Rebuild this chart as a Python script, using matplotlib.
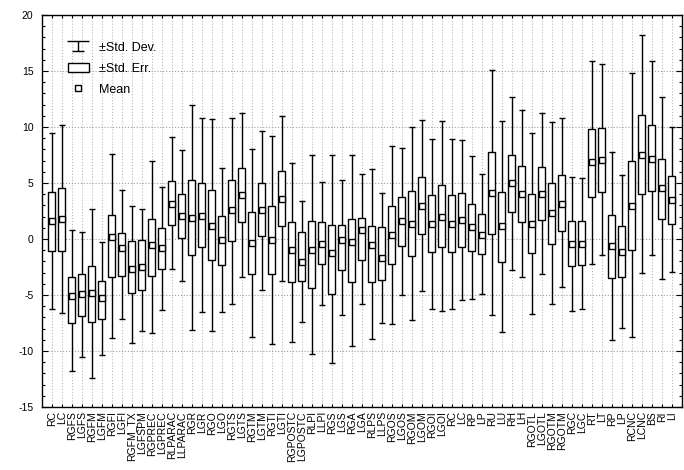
import matplotlib
matplotlib.use("Agg")
import matplotlib.pyplot as plt
import numpy as np
from matplotlib.ticker import MultipleLocator
from matplotlib.path import Path
from matplotlib.lines import Line2D

plt.rcParams['font.family'] = ['Liberation Sans', 'DejaVu Sans']
plt.rcParams['axes.unicode_minus'] = False

labels = ["RC", "LC", "RGFS", "LGFS", "RGFM", "LGFM", "RGFI", "LGFI", "RGFM_TX", "LGFSPM",
          "RGPREC", "LGPREC", "RLPARAC", "LLPARAC", "RGR", "LGR", "RGO", "LGO", "RGTS", "LGTS",
          "RGTM", "LGTM", "RGTI", "LGTI", "RGPOSTC", "LGPOSTC", "RLPI", "LLPI", "RGS", "LGS",
          "RGA", "LGA", "RLPS", "LLPS", "RGOS", "LGOS", "RGOM", "LGOM", "RGOI", "LGOI",
          "RC", "LC", "RP", "LP", "RU", "LU", "RH", "LH", "RGOTL", "LGOTL",
          "RGOTM", "RGOTM", "RGC", "LGC", "RT", "LT", "RP", "LP", "RCNC", "LCNC",
          "BS", "RI", "LI"]

# mean +- std. dev. (whiskers)
sd_hi = [9.48, 10.16, 0.83, 0.60, 2.68, -0.27, 7.57, 4.41, 2.98, 2.68,
         6.94, 4.65, 9.12, 7.93, 12.0, 10.76, 10.67, 6.35, 10.82, 11.26,
         8.05, 9.68, 9.18, 10.97, 6.79, 3.37, 7.48, 5.10, 7.48, 5.30,
         7.48, 5.81, 6.26, 4.11, 8.28, 8.13, 10.04, 10.61, 8.94, 10.52,
         8.97, 8.85, 7.45, 5.81, 15.08, 10.58, 12.69, 11.50, 9.48, 11.26,
         10.43, 10.76, 5.54, 5.45, 15.88, 15.64, 7.75, 5.75, 14.84, 18.18,
         15.88, 12.69, 9.98]
sd_lo = [-6.29, -6.61, -11.77, -10.55, -12.43, -10.40, -8.85, -7.12, -9.30, -8.25,
         -8.40, -6.32, -2.68, -3.72, -8.10, -6.53, -8.25, -6.56, -5.78, -3.40,
         -8.73, -4.53, -9.39, -3.72, -9.24, -7.45, -10.28, -5.87, -11.03, -6.76,
         -9.59, -5.78, -8.94, -7.51, -7.57, -4.98, -7.21, -4.68, -6.26, -6.41,
         -6.23, -5.48, -5.36, -4.92, -6.82, -8.31, -2.74, -3.43, -6.70, -3.10,
         -5.78, -4.29, -6.41, -6.23, -2.20, -1.40, -9.00, -7.96, -8.79, -3.04,
         -1.40, -3.58, -2.98]
# mean +- std. err. (boxes)
se_hi = [4.20, 4.56, -3.40, -3.16, -2.44, -3.72, 2.10, 0.54, -0.22, -0.12,
         1.79, 0.95, 5.21, 4.02, 5.30, 4.98, 4.35, 2.03, 5.30, 6.35,
         2.41, 4.98, 2.95, 6.05, 1.49, 0.60, 1.58, 1.49, 1.28, 1.28,
         1.79, 1.88, 1.19, 1.04, 2.98, 3.78, 4.32, 5.51, 3.90, 4.86,
         3.90, 4.11, 3.16, 2.23, 7.75, 4.20, 7.48, 6.56, 4.02, 6.44,
         4.98, 5.75, 1.58, 1.58, 9.83, 9.92, 2.12, 1.19, 7.00, 11.11,
         10.16, 7.18, 5.60]
se_lo = [-1.07, -1.07, -7.51, -6.91, -7.42, -7.12, -3.35, -3.34, -4.80, -4.55,
         -3.28, -2.68, 1.25, 0.09, -1.40, -0.74, -1.91, -2.35, -0.21, 1.49,
         -3.13, 0.24, -3.13, 1.19, -3.87, -3.78, -4.38, -2.20, -4.89, -2.74,
         -3.87, -1.91, -3.87, -3.64, -2.20, -0.66, -1.49, 0.45, -1.16, -0.74,
         -1.16, -0.74, -1.10, -1.34, 0.45, -2.06, 2.41, 1.49, -1.25, 1.70,
         -0.42, 0.74, -2.44, -2.35, 3.75, 4.20, -3.49, -3.40, -1.01, 4.05,
         4.32, 1.82, 1.37]
mean = [1.61, 1.79, -5.10, -4.90, -4.86, -5.30, 0.20, -0.80, -2.70, -2.50,
        -0.50, -0.83, 3.16, 2.06, 1.88, 2.09, 1.13, -0.09, 2.56, 3.90,
        -0.33, 2.56, -0.09, 3.60, -1.00, -2.06, -1.00, -0.42, -1.25, -0.12,
        -0.27, 0.83, -0.57, -1.73, 0.39, 1.58, 1.34, 2.95, 1.34, 1.97,
        1.34, 1.70, 1.04, 0.39, 4.14, 1.13, 4.98, 3.99, 1.34, 4.02,
        2.29, 3.16, -0.42, -0.42, 6.88, 7.09, -0.66, -1.16, 2.98, 7.54,
        7.18, 4.56, 3.46]

x = np.arange(1, len(labels) + 1)
mean = np.array(mean)
sd_hi, sd_lo = np.array(sd_hi), np.array(sd_lo)
se_hi, se_lo = np.array(se_hi), np.array(se_lo)

fig = plt.figure(figsize=(6.84, 4.70), dpi=100)
ax = fig.add_axes([41.7 / 684, 1 - 407 / 470, 640 / 684, 392 / 470])

ax.errorbar(x, mean, yerr=[mean - sd_lo, sd_hi - mean], fmt='none', ecolor='black',
            elinewidth=1.0, capsize=2.0, capthick=1.0, zorder=2)
bars = ax.bar(x, se_hi - se_lo, bottom=se_lo, width=0.73, color='white', edgecolor='black',
              linewidth=1.0, zorder=3, label='±Std. Err.')
mk, = ax.plot(x, mean, 's', ms=5, mfc='white', mec='black', mew=1.0, zorder=4, label='Mean')

# whisker key symbol for the legend (wide top bar, stem, shorter bottom bar)
whisker_sym = Path([(-1, 0.41), (1, 0.41), (0, 0.41), (0, -0.41), (-0.55, -0.41), (0.55, -0.41)],
                   [Path.MOVETO, Path.LINETO, Path.MOVETO, Path.LINETO, Path.MOVETO, Path.LINETO])
sd_key = Line2D([], [], ls='none', marker=whisker_sym, ms=16, mfc='none', mec='black',
                mew=1.0, label='±Std. Dev.')

ax.set_xlim(0, 64)
ax.set_ylim(-15, 20)
ax.set_xticks(x)
ax.set_xticklabels(labels, rotation=90, fontsize=7.5)
ax.yaxis.set_major_locator(MultipleLocator(5))
ax.yaxis.set_minor_locator(MultipleLocator(1))
ax.tick_params(axis='y', which='major', direction='in', length=4, width=0.8, labelsize=7.5,
               right=True, pad=6)
ax.tick_params(axis='y', which='minor', direction='in', length=2.5, width=0.8, right=True)
ax.tick_params(axis='x', direction='in', length=2.5, width=0.8, top=True, pad=3)

ax.grid(True, axis='y', which='major', linestyle=':', color='#a0a0a0', linewidth=0.8, zorder=0)
ax.grid(True, axis='x', which='major', linestyle=':', color='#b8b8b8', linewidth=0.8, zorder=0)
ax.set_axisbelow(True)
for s in ax.spines.values():
    s.set_linewidth(1.0)

ax.legend(handles=[sd_key, bars, mk], loc='upper left', bbox_to_anchor=(0.041, 0.932),
          frameon=False, fontsize=9, handlelength=1.67, handleheight=0.8, numpoints=1,
          handletextpad=0.8, labelspacing=0.72, borderpad=0, borderaxespad=0)

fig.savefig('out.png', dpi=100)
